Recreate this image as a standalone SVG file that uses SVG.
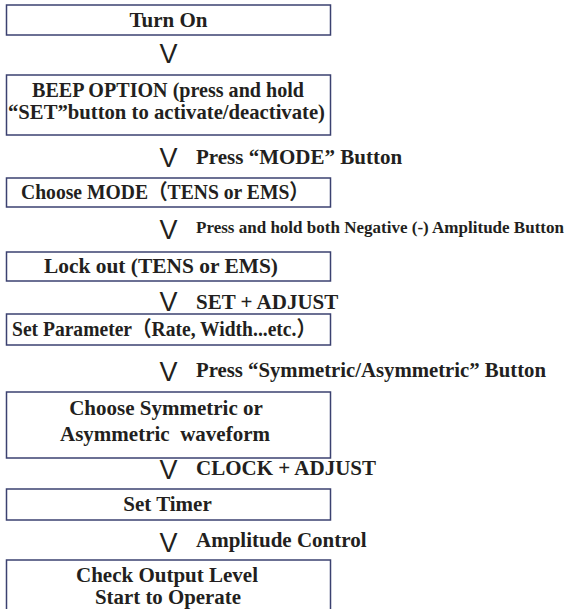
<svg xmlns="http://www.w3.org/2000/svg" width="566" height="609" viewBox="0 0 566 609">
<style>
.box{fill:#ffffff;stroke:#3b4170;stroke-width:1.5}
.t{font-family:"Liberation Serif","Noto Sans CJK SC",serif;font-weight:bold;font-size:21px;fill:#231f20}
.c{text-anchor:middle}
.s{font-size:17px}
.m{font-size:20px}
.v{font-family:"Liberation Sans","DejaVu Sans",sans-serif;font-size:27px;fill:#231f20;text-anchor:middle}
</style>
<rect width="566" height="609" fill="#ffffff"/>
<g id="n1"><rect class="box" x="6.5" y="5" width="324" height="30"/><text class="t c" x="168.5" y="27">Turn On</text></g>
<g id="n2"><rect class="box" x="6.5" y="75" width="324" height="60"/><text class="t c" x="168" y="97" textLength="272" lengthAdjust="spacingAndGlyphs">BEEP OPTION (press and hold</text><text class="t c" x="166.5" y="119" textLength="317" lengthAdjust="spacingAndGlyphs">“SET”button to activate/deactivate)</text></g>
<g id="n3"><rect class="box" x="6.5" y="178" width="324" height="29"/><text class="t" x="21" y="199" textLength="288" lengthAdjust="spacingAndGlyphs">Choose MODE（TENS or EMS）</text></g>
<g id="n4"><rect class="box" x="6.5" y="252" width="324" height="29"/><text class="t" x="44" y="273" textLength="234" lengthAdjust="spacingAndGlyphs">Lock out (TENS or EMS)</text></g>
<g id="n5"><rect class="box" x="6.5" y="314" width="324" height="31"/><text class="t" x="12" y="336" textLength="304" lengthAdjust="spacingAndGlyphs">Set Parameter（Rate, Width...etc.）</text></g>
<g id="n6"><rect class="box" x="6.5" y="392" width="324" height="66"/><text class="t c" x="166" y="415">Choose Symmetric or</text><text class="t c" x="165" y="441" xml:space="preserve">Asymmetric  waveform</text></g>
<g id="n7"><rect class="box" x="6.5" y="489" width="324" height="31"/><text class="t c" x="167.5" y="511">Set Timer</text></g>
<g id="n8"><rect class="box" x="6.5" y="560" width="324" height="60"/><text class="t c m" x="167" y="582" textLength="182" lengthAdjust="spacingAndGlyphs">Check Output Level</text><text class="t c m" x="168" y="604" textLength="146" lengthAdjust="spacingAndGlyphs">Start to Operate</text></g>
<g id="connectors">
<text class="v" x="168.5" y="63">V</text>
<text class="v" x="168.5" y="167">V</text><text class="t" x="196" y="164">Press “MODE” Button</text>
<text class="v" x="168.5" y="239">V</text><text class="t s" x="196" y="233" textLength="368" lengthAdjust="spacingAndGlyphs">Press and hold both Negative (-) Amplitude Button</text>
<text class="v" x="168.5" y="311">V</text><text class="t" x="196" y="309">SET + ADJUST</text>
<text class="v" x="168.5" y="381">V</text><text class="t" x="196" y="377" textLength="350" lengthAdjust="spacingAndGlyphs">Press “Symmetric/Asymmetric” Button</text>
<text class="v" x="168.5" y="479">V</text><text class="t" x="196" y="475">CLOCK + ADJUST</text>
<text class="v" x="168.5" y="552">V</text><text class="t" x="196" y="547">Amplitude Control</text>
</g>
</svg>
